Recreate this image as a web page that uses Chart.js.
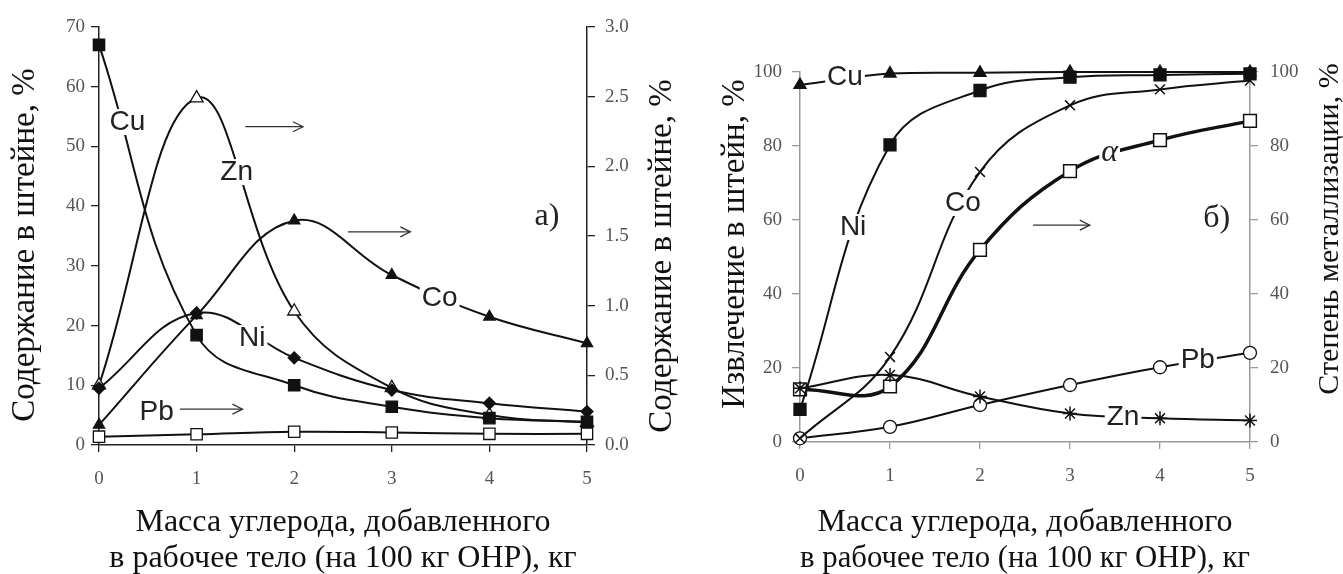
<!DOCTYPE html>
<html><head><meta charset="utf-8">
<script src="https://cdn.jsdelivr.net/npm/chart.js@4.4.0/dist/chart.umd.min.js"></script>
<style>
html,body{margin:0;padding:0;background:#fff;}
#wrap{position:relative;width:1343px;height:574px;overflow:hidden;}
#c1{position:absolute;left:0;top:0;}
#c2{position:absolute;left:690px;top:0;}
</style></head><body>
<div id="wrap"><canvas id="c1" width="690" height="574"></canvas><canvas id="c2" width="653" height="574"></canvas></div>
<script>
// ---------- data ----------
const carbonMass = [0, 1, 2, 3, 4, 5];
const xTicks = [0, 1, 2, 3, 4, 5];

// (а) content in matte, %
const cuContent = [67.0, 18.4, 10.0, 6.4, 4.5, 3.9];      // left axis
const niContent = [9.5, 22.1, 14.6, 9.2, 7.0, 5.6];       // left axis
const znContent = [0.43, 2.49, 0.96, 0.41, 0.215, 0.16];  // right axis
const coContent = [0.144, 0.93, 1.61, 1.22, 0.92, 0.73];  // right axis
const pbContent = [0.06, 0.077, 0.095, 0.09, 0.08, 0.08]; // right axis
const leftTicksA = [0, 10, 20, 30, 40, 50, 60, 70];
const rightTicksA = [0, 0.5, 1.0, 1.5, 2.0, 2.5, 3.0];

// (б) recovery into matte, %
const cuRecovery = [96.5, 99.6, 99.8, 100, 100, 100];
const niRecovery = [8.8, 80.3, 95.0, 98.6, 99.2, 99.5];
const coRecovery = [1.0, 23.0, 73.0, 91.0, 95.3, 97.7];
const znRecovery = [14.5, 18.1, 12.3, 7.7, 6.4, 5.8];
const pbRecovery = [1.0, 4.1, 10.0, 15.4, 20.2, 24.1];
const metallization = [14.2, 15.0, 51.9, 73.2, 81.6, 86.8]; // right axis (α)
const leftTicksB = [0, 20, 40, 60, 80, 100];
const rightTicksB = [0, 20, 40, 60, 80, 100];

const xTitle = ['Масса углерода, добавленного', 'в рабочее тело (на 100 кг ОНР), кг'];

// ---------- helpers ----------
const SERIF = "'Liberation Serif', 'Times New Roman', serif";
const SANS = "'Liberation Sans', Arial, sans-serif";

function pts(ys) { return carbonMass.map((x, i) => ({x: x, y: ys[i]})); }
function ds(label, ys, axis, style, r, filled, lw, pbw) {
  return {
    label: label, data: pts(ys), yAxisID: axis,
    borderColor: '#111', borderWidth: lw || 2, tension: 0.4, clip: false,
    pointStyle: style, pointRadius: r, pointHoverRadius: r,
    pointBackgroundColor: filled ? '#111' : '#fff',
    pointBorderColor: '#111', pointBorderWidth: pbw || 1.3, fill: false
  };
}
function setTicks(arr) { return s => { s.ticks = arr.map(v => ({value: v})); }; }

function drawArrow(ctx, x1, x2, y) {
  ctx.save();
  ctx.strokeStyle = '#333'; ctx.lineWidth = 1.3;
  ctx.beginPath(); ctx.moveTo(x1, y); ctx.lineTo(x2, y); ctx.stroke();
  ctx.beginPath(); ctx.moveTo(x2 - 10, y - 5); ctx.lineTo(x2, y); ctx.lineTo(x2 - 10, y + 5); ctx.stroke();
  ctx.restore();
}

const annotPlugin = {
  id: 'annot',
  afterDatasetsDraw(chart, args, opts) {
    const ctx = chart.ctx, xs = chart.scales.x;
    (opts.labels || []).forEach(a => {
      const ys = chart.scales[a.axis];
      const px = xs.getPixelForValue(a.x), py = ys.getPixelForValue(a.y);
      ctx.save();
      ctx.font = a.font;
      const w = ctx.measureText(a.text).width;
      if (a.bg) {
        ctx.fillStyle = '#fff';
        ctx.fillRect(px - w / 2 - 2, py - a.h / 2, w + 4, a.h);
      }
      ctx.fillStyle = a.color || '#222';
      ctx.textAlign = 'center'; ctx.textBaseline = 'middle';
      ctx.fillText(a.text, px, py);
      ctx.restore();
    });
    (opts.arrows || []).forEach(a => {
      const ys = chart.scales[a.axis];
      drawArrow(ctx, xs.getPixelForValue(a.x1), xs.getPixelForValue(a.x2), ys.getPixelForValue(a.y));
    });
  },
  afterDraw(chart, args, opts) {
    const ctx = chart.ctx;
    (opts.vtitles || []).forEach(t => {
      ctx.save();
      ctx.translate(t.x, t.y);
      ctx.rotate(-Math.PI / 2);
      ctx.font = t.font; ctx.fillStyle = '#111';
      ctx.textAlign = 'center'; ctx.textBaseline = 'middle';
      ctx.fillText(t.text, 0, 0);
      ctx.restore();
    });
  }
};

function xScale(h, axisColor) {
  return {
    type: 'linear', position: 'bottom', min: 0, max: 5,
    afterFit: s => { s.height = h; }, afterBuildTicks: setTicks(xTicks),
    grid: {display: true, drawOnChartArea: false, drawTicks: true, tickLength: 7, color: axisColor, lineWidth: 1.3},
    border: {display: true, color: axisColor, width: 1.5},
    ticks: {font: {family: SERIF, size: 19}, color: '#555', padding: 16, callback: v => String(v), maxRotation: 0},
    title: {display: true, text: xTitle, font: {family: SERIF, size: 32, lineHeight: '36px'}, color: '#111', padding: {top: 0, bottom: -3}}
  };
}
function yScale(pos, min, max, w, arr, axisColor, fmt, pad) {
  return {
    type: 'linear', position: pos, min: min, max: max,
    afterFit: s => { s.width = w; }, afterBuildTicks: setTicks(arr),
    grid: {display: true, drawOnChartArea: false, drawTicks: true, tickLength: 8, color: axisColor, lineWidth: 1.3},
    border: {display: true, color: axisColor, width: 1.5},
    ticks: {font: {family: SERIF, size: 19}, color: '#555', padding: pad, callback: fmt}
  };
}

// ---------- chart a ----------
new Chart(document.getElementById('c1'), {
  type: 'line',
  data: {
    datasets: [
      ds('Cu', cuContent, 'y', 'rect', 8, true, 2),
      ds('Ni', niContent, 'y', 'rectRot', 6, true, 2),
      ds('Zn', znContent, 'y1', 'triangle', 7.5, false, 2),
      ds('Co', coContent, 'y1', 'triangle', 6.5, true, 2),
      ds('Pb', pbContent, 'y1', 'rect', 8, false, 2)
    ]
  },
  options: {
    responsive: false, animation: false, devicePixelRatio: 1,
    layout: {padding: {top: 27, left: 0, right: 0, bottom: 0}},
    plugins: {
      legend: {display: false}, tooltip: {enabled: false},
      annot: {
        labels: [
          {text: 'Cu', x: 0.29, y: 54.1, axis: 'y', font: '28px ' + SANS, bg: true, h: 26},
          {text: 'Zn', x: 1.41, y: 45.7, axis: 'y', font: '28px ' + SANS, bg: true, h: 26},
          {text: 'Ni', x: 1.57, y: 17.9, axis: 'y', font: '28px ' + SANS, bg: true, h: 26},
          {text: 'Co', x: 3.49, y: 24.6, axis: 'y', font: '28px ' + SANS, bg: true, h: 26},
          {text: 'Pb', x: 0.59, y: 5.5, axis: 'y', font: '28px ' + SANS, bg: true, h: 26},
          {text: 'а)', x: 4.59, y: 38.2, axis: 'y', font: '32px ' + SERIF, bg: false, h: 30}
        ],
        arrows: [
          {x1: 1.50, x2: 2.09, y: 53.3, axis: 'y'},
          {x1: 2.55, x2: 3.19, y: 35.7, axis: 'y'},
          {x1: 0.83, x2: 1.47, y: 6.0, axis: 'y'}
        ],
        vtitles: [
          {text: 'Содержание в штейне, %', x: 25, y: 245, font: '33px ' + SERIF},
          {text: 'Содержание в штейне, %', x: 662, y: 256, font: '33px ' + SERIF}
        ]
      }
    },
    scales: {
      x: xScale(129, '#222'),
      y: yScale('left', 0, 70, 99, leftTicksA, '#222', v => String(v), 6),
      y1: yScale('right', 0, 3, 103, rightTicksA, '#222', v => v.toFixed(1), 10)
    }
  },
  plugins: [annotPlugin]
});

// ---------- chart б ----------
new Chart(document.getElementById('c2'), {
  type: 'line',
  data: {
    datasets: [
      ds('Cu', cuRecovery, 'y', 'triangle', 7, true, 2),
      ds('Ni', niRecovery, 'y', 'rect', 8.5, true, 2),
      ds('Co', coRecovery, 'y', 'crossRot', 7, false, 2, 1.5),
      ds('Zn', znRecovery, 'y', 'star', 7, false, 2, 1.5),
      ds('Pb', pbRecovery, 'y', 'circle', 6.5, false, 2),
      ds('α', metallization, 'y2', 'rect', 9, false, 3.5, 1.5)
    ]
  },
  options: {
    responsive: false, animation: false, devicePixelRatio: 1,
    layout: {padding: {top: 72, left: 0, right: 0, bottom: 0}},
    plugins: {
      legend: {display: false}, tooltip: {enabled: false},
      annot: {
        labels: [
          {text: 'Cu', x: 0.50, y: 98.6, axis: 'y', font: '28px ' + SANS, bg: true, h: 26},
          {text: 'Ni', x: 0.59, y: 58.1, axis: 'y', font: '28px ' + SANS, bg: true, h: 26},
          {text: 'Co', x: 1.81, y: 64.6, axis: 'y', font: '28px ' + SANS, bg: true, h: 26},
          {text: 'α', x: 3.44, y: 78.1, axis: 'y', font: 'italic 32px ' + SERIF, bg: true, h: 26},
          {text: 'Pb', x: 4.42, y: 22.2, axis: 'y', font: '28px ' + SANS, bg: true, h: 26},
          {text: 'Zn', x: 3.59, y: 6.8, axis: 'y', font: '28px ' + SANS, bg: true, h: 26},
          {text: 'б)', x: 4.63, y: 60.5, axis: 'y', font: '32px ' + SERIF, bg: false, h: 30}
        ],
        arrows: [
          {x1: 2.59, x2: 3.22, y: 58.6, axis: 'y'}
        ],
        vtitles: [
          {text: 'Извлечение в штейн, %', x: 45, y: 244, font: '33px ' + SERIF},
          {text: 'Степень металлизации, %', x: 640, y: 229, font: '30px ' + SERIF}
        ]
      }
    },
    scales: {
      x: xScale(132, '#999'),
      y: yScale('left', 0, 100, 110, leftTicksB, '#999', v => String(v), 10),
      y2: yScale('right', 0, 100, 93, rightTicksB, '#999', v => String(v), 12)
    }
  },
  plugins: [annotPlugin]
});
</script>
</body></html>
